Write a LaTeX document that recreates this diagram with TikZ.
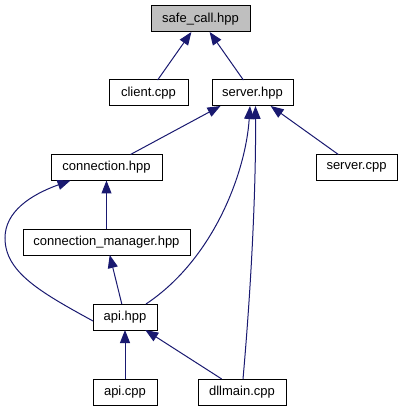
\documentclass[tikz,border=0pt]{standalone}
\usepackage{fontspec}
\setmainfont{Liberation Sans}
\usetikzlibrary{arrows.meta,calc}
\definecolor{edgeblue}{HTML}{191970}
\definecolor{rootgray}{HTML}{BFBFBF}

\begin{document}
\begin{tikzpicture}[
  x=1pt,y=-1pt,
  font=\fontsize{13}{15}\selectfont,
  file/.style={draw=black,line width=1pt,fill=white,minimum height=26pt,
               inner sep=0pt,outer sep=0pt},
  root/.style={file,fill=rootgray},
  incl/.style={-{Triangle[length=13pt,width=10pt,fill=edgeblue]},line width=1pt,
               draw=edgeblue}
]
\useasboundingbox (0,0) rectangle (403,411);

% files
\node[root,minimum width=99pt] (safe) at (200.5,19) {safe\_call.hpp};
\node[file,minimum width=79pt] (client) at (148.5,93) {client.cpp};
\node[file,minimum width=81pt] (srvh) at (252.5,93) {server.hpp};
\node[file,minimum width=111pt] (conn) at (106.5,167.5) {connection.hpp};
\node[file,minimum width=81pt] (srvc) at (356.5,167.5) {server.cpp};
\node[file,minimum width=167pt] (connmgr) at (106.5,242) {connection\_manager.hpp};
\node[file,minimum width=64pt] (apih) at (125,317) {api.hpp};
\node[file,minimum width=64pt] (apic) at (125,392) {api.cpp};
\node[file,minimum width=88pt] (dll) at (242,392) {dllmain.cpp};

% include edges
\draw[incl] (client) -- (safe);
\draw[incl] (srvh) -- (safe);
\draw[incl] ([xshift=24pt]conn.north) -- ([xshift=-32pt]srvh.south);
\draw[incl] (srvc) -- (srvh);
\draw[incl] (connmgr) -- (conn);
\draw[incl] (apih) -- (connmgr);
\draw[incl] (apic) -- (apih);
\draw[incl] (dll) -- (apih);
\draw[incl] ([xshift=21pt]apih.north) .. controls (215,258) and (246,170)
  .. ([xshift=-2.5pt]srvh.south);
\draw[incl] ([xshift=1pt]dll.north) .. controls (250,300) and (256,200)
  .. ([xshift=3pt]srvh.south);
\draw[incl] ([yshift=-4pt]apih.west) .. controls (40,292) and (5,272) .. (5,238)
  .. controls (5,212) and (30,195) .. ([xshift=-36pt]conn.south);
\end{tikzpicture}
\end{document}
